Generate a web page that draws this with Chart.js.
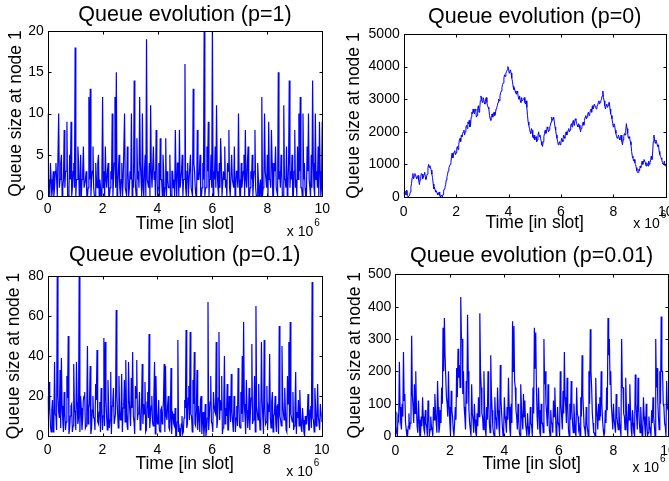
<!DOCTYPE html>
<html>
<head>
<meta charset="utf-8">
<script src="https://cdn.jsdelivr.net/npm/chart.js@4.4.1/dist/chart.umd.min.js"></script>
<style>
  html, body { margin: 0; padding: 0; background: #fff; overflow: hidden; width: 669px; height: 481px; }
  .panel { position: absolute; }
</style>
</head>
<body>
<div class="panel" style="left:0;top:0"><canvas id="c1" width="335" height="240"></canvas></div>
<div class="panel" style="left:335px;top:0"><canvas id="c2" width="350" height="240"></canvas></div>
<div class="panel" style="left:0;top:240px"><canvas id="c3" width="335" height="241"></canvas></div>
<div class="panel" style="left:335px;top:240px"><canvas id="c4" width="350" height="241"></canvas></div>
<script>
// queue size samples, one every 0.025 x 10^6 slots (0 .. 10)
const queueP1 = [10,1,2,0,4,2,0,1,3,0,1,3,4,2,0,0,10,1,2,4,5,0,1,2,8,1,3,3,9,0,0,1,5,2,9,0,1,3,4,1,
  18,0,2,2,6,4,0,1,5,0,2,3,6,1,1,2,3,0,0,1,12,2,13,0,2,3,6,1,0,0,4,2,1,4,5,0,2,1,0,3,
  12,1,3,0,6,2,1,3,4,0,0,1,3,2,10,0,2,4,12,1,15,0,1,3,5,1,0,2,4,0,2,2,10,1,1,0,6,3,0,1,
  3,2,10,0,2,1,14,3,1,0,7,2,3,1,12,4,2,0,10,1,0,3,5,0,19,2,2,1,4,0,11,3,1,1,6,2,3,0,8,4,
  0,1,4,0,7,2,2,0,5,3,0,1,7,0,3,2,1,1,5,0,0,3,3,1,2,0,8,2,0,4,4,0,8,1,1,3,5,0,2,2,
  16,1,0,3,4,0,2,2,5,1,1,0,13,4,3,1,0,0,8,2,2,3,5,0,0,1,4,2,21,0,1,1,6,3,9,0,2,2,5,1,
  21,0,3,2,6,1,11,3,1,0,4,1,7,4,0,0,3,2,6,1,2,0,4,3,8,1,0,0,5,2,2,1,6,0,1,3,3,1,10,2,
  0,0,4,1,2,3,5,0,8,2,1,4,6,0,0,1,3,2,5,0,2,3,8,1,0,0,4,2,0,1,2,0,12,0,1,2,10,3,3,1,
  5,0,9,2,2,1,8,4,0,0,4,3,6,1,1,0,15,2,3,1,5,3,0,0,11,2,2,1,6,0,1,4,14,1,3,2,5,0,0,3,
  8,1,2,0,6,2,10,3,12,1,1,0,10,2,4,1,0,0,6,3,10,2,2,0,5,1,14,4,1,0,10,2,3,1,6,0,9,3,0,1,
  9];

const queueP0 = [150,40,80,180,200,60,20,0,0,60,150,300,420,600,720,560,640,720,700,600,
  560,640,660,500,380,520,620,720,700,560,600,700,760,620,540,640,700,880,1000,900,
  960,900,820,700,600,400,250,300,210,150,180,120,60,100,150,50,0,60,40,0,
  80,180,250,300,380,520,620,700,800,900,950,1000,1050,1250,1350,1200,1300,1380,1420,1300,
  1350,1500,1550,1450,1600,1750,1800,1700,1900,1850,1950,2000,2050,1900,2000,2150,2200,2100,2300,2250,
  2350,2150,2200,2450,2600,2550,2700,2600,2550,2700,2650,2450,2500,2700,2800,2600,2700,2950,3100,3000,
  2900,3050,3000,2900,2850,3000,3050,2900,2800,2750,2700,2500,2400,2350,2500,2550,2450,2550,2600,2500,
  2550,2700,2750,2800,2900,3000,2950,3100,3200,3250,3350,3450,3500,3650,3750,3700,3800,3850,3900,4000,
  3950,3800,3850,3900,3800,3650,3550,3400,3300,3350,3250,3200,3150,3250,3200,3050,3000,3100,2950,2900,
  3050,2950,2950,3000,3050,2900,2850,2950,2750,2500,2300,2200,2100,2000,1950,2100,2050,1850,1800,1900,
  1750,1800,1850,1700,1750,1900,2000,1850,1900,1800,1700,1600,1550,1700,1850,1950,2050,1950,2000,2150,
  2100,2000,2050,2150,2200,2300,2450,2350,2400,2450,2300,2150,2050,1900,1800,1700,1600,1650,1700,1600,
  1650,1800,1750,1700,1900,1850,1800,1950,2000,1900,1950,2050,2100,2000,2050,2200,2250,2150,2300,2350,
  2200,2300,2400,2350,2250,2200,2150,2250,2200,2100,2000,2100,2150,2250,2300,2200,2350,2450,2500,2400,
  2450,2550,2600,2500,2550,2650,2700,2600,2800,2700,2750,2850,2850,2750,2700,2800,2800,2900,2950,2850,
  2900,2950,3000,3100,3250,3050,2950,2800,2700,2800,2850,2750,2800,2900,2900,2700,2550,2500,2400,2250,
  2150,2250,2200,2050,1950,1850,1800,1850,1900,1800,1750,1850,1900,1700,1600,1750,1850,1950,1900,2050,
  2250,2100,1950,1800,1850,1800,1700,1600,1400,1250,1200,1100,1150,1050,1000,900,800,750,750,850,
  800,950,900,1000,1100,1000,1050,1150,1150,1050,950,1050,1000,950,1100,1000,1050,1150,1250,1150,
  1350,1700,1900,1750,1650,1750,1700,1600,1550,1600,1400,1300,1250,1200,1150,1050,1000,1050,1100,950,
  1000];

const queueP01 = [20,8,27,14,5,2,13,18,2,6,37,11,10,3,85,20,12,9,33,4,39,15,8,2,22,12,3,7,30,19,50,1,4,10,15,16,2,5,36,13,
  12,3,37,17,6,9,85,2,20,14,3,8,18,20,22,4,5,11,45,6,14,16,35,1,4,13,20,9,9,3,26,18,43,7,6,12,17,2,24,15,
  3,10,49,5,47,19,10,3,28,14,4,8,32,1,15,17,24,6,6,11,63,20,12,4,30,13,8,9,31,2,14,16,28,7,38,12,5,3,37,18,
  18,5,29,14,42,10,7,1,25,19,38,8,11,13,22,3,4,16,36,6,16,11,27,2,3,17,22,9,51,4,9,15,20,7,5,20,37,1,30,12,
  6,8,18,3,2,13,14,6,11,18,36,2,35,10,8,15,20,4,3,9,34,1,12,11,6,5,14,0,0,7,48,2,4,0,0,6,10,1,2,9,
  18,14,53,4,6,19,25,8,52,11,10,2,28,16,42,6,5,13,33,3,15,10,2,18,20,1,8,12,0,5,16,0,3,9,67,3,10,17,30,7,
  6,2,22,15,12,11,47,4,8,19,52,8,18,13,30,1,4,16,40,6,14,10,26,3,3,20,18,7,31,12,7,2,20,14,2,9,15,5,34,18,
  5,4,22,11,40,7,57,16,10,1,28,13,4,9,24,3,13,19,46,6,8,12,30,2,65,15,12,8,26,10,3,4,47,18,18,1,48,14,6,7,
  25,3,14,12,41,9,4,17,22,2,10,11,20,6,2,15,16,1,55,10,8,5,45,19,12,8,24,13,3,2,30,16,47,4,57,11,9,7,22,3,
  5,14,32,1,12,9,18,5,23,12,4,2,14,8,2,0,10,6,6,11,21,3,3,13,15,4,77,9,8,2,24,15,5,6,26,10,10,3,16,12,
  7];

const queueP001 = [75,30,10,0,60,50,230,90,40,20,100,60,260,110,130,40,20,0,0,30,70,20,40,60,310,130,90,40,160,70,200,90,30,10,110,50,0,0,60,30,
  120,60,20,10,80,40,30,0,110,70,0,20,60,30,20,0,90,50,130,80,40,10,170,90,10,30,80,40,150,100,335,200,365,250,250,120,100,60,200,90,
  40,0,140,80,60,20,0,40,90,50,210,120,270,180,220,150,430,300,300,130,200,90,60,20,170,100,375,200,80,40,20,0,160,70,50,10,100,50,10,0,
  70,30,120,60,380,200,150,70,60,20,200,90,20,0,90,50,200,100,40,10,250,130,80,30,10,0,120,60,50,20,150,80,30,0,220,110,70,30,0,20,
  120,60,40,10,90,50,180,90,20,0,100,40,355,200,340,170,150,80,60,20,100,50,10,0,160,90,50,20,130,60,110,40,20,0,70,30,0,10,90,40,
  30,0,150,70,335,210,320,150,60,20,150,80,10,0,100,40,40,10,300,160,200,100,70,30,160,80,20,0,80,40,40,10,110,60,150,70,0,20,90,40,
  30,0,200,100,60,20,140,70,260,120,90,40,180,90,20,0,100,50,170,80,40,10,100,50,10,0,150,70,60,20,30,0,120,60,250,130,80,30,20,0,
  90,40,20,0,200,100,330,200,150,70,40,10,10,0,180,90,60,20,100,50,120,60,200,100,50,20,0,10,80,40,150,80,365,250,300,160,200,90,60,20,
  100,50,50,10,130,60,40,20,90,40,20,0,300,150,150,70,60,20,180,90,30,0,100,50,160,80,20,0,80,40,10,0,190,100,60,20,180,90,40,10,
  90,40,0,10,120,60,30,0,100,40,0,10,60,30,20,0,80,40,120,60,30,0,300,150,210,110,60,20,200,100,370,200,200,100,90,40,30,0,170,90,
  80];

const xTicks = [0, 2, 4, 6, 8, 10];
const titles = ['Queue evolution (p=1)', 'Queue evolution (p=0)', 'Queue evolution (p=0.1)', 'Queue evolution (p=0.01)'];
const yLabel = 'Queue size at node 1';
const xLabel = 'Time [in slot]';

const FONT = '"Liberation Sans", Arial, Helvetica, sans-serif';

// boite MATLAB : cadre + petites graduations vers l'interieur + "x 10^6"
const matlabBox = {
  id: 'matlabBox',
  afterDraw(chart, args, opts) {
    const ctx = chart.ctx;
    const a = chart.chartArea;
    const L = Math.round(a.left) + 0.5, R = Math.round(a.right) + 0.5;
    const T = Math.round(a.top) + 0.5, B = Math.round(a.bottom) + 0.5;
    ctx.save();
    ctx.strokeStyle = '#000';
    ctx.lineWidth = 1;
    ctx.strokeRect(L, T, R - L, B - T);
    ctx.beginPath();
    const xs = chart.scales.x, ys = chart.scales.y;
    xs.ticks.forEach(t => {
      const px = Math.round(xs.getPixelForValue(t.value)) + 0.5;
      ctx.moveTo(px, B); ctx.lineTo(px, B - 3);
      ctx.moveTo(px, T); ctx.lineTo(px, T + 3);
    });
    ys.ticks.forEach(t => {
      const py = Math.round(ys.getPixelForValue(t.value)) + 0.5;
      ctx.moveTo(L, py); ctx.lineTo(L + 3, py);
      ctx.moveTo(R, py); ctx.lineTo(R - 3, py);
    });
    ctx.stroke();
    // exposant de l'axe x
    ctx.fillStyle = '#000';
    ctx.textBaseline = 'middle';
    ctx.textAlign = 'right';
    ctx.font = '14px ' + FONT;
    const ex = a.right + opts.dx, ey = a.bottom + opts.dy;
    ctx.fillText('x 10', ex, ey);
    ctx.textAlign = 'left';
    ctx.font = '10px ' + FONT;
    ctx.fillText('6', ex + 1, ey - 9);
    ctx.restore();
  }
};

function makePanel(id, title, values, yMax, yStep, box) {
  const pts = values.map((v, i) => ({ x: i * 0.025, y: v }));
  return new Chart(document.getElementById(id), {
    type: 'line',
    data: {
      datasets: [{
        data: pts,
        borderColor: '#0000ff',
        borderWidth: box.lineW,
        pointRadius: 0,
        tension: 0,
        clip: 0
      }]
    },
    plugins: [matlabBox],
    options: {
      responsive: false,
      animation: false,
      events: [],
      layout: { padding: { left: 0, top: 0, right: box.padRight, bottom: 0 } },
      plugins: {
        legend: { display: false },
        tooltip: { enabled: false },
        title: {
          display: true,
          text: title,
          fullSize: false,
          color: '#000',
          font: { family: FONT, size: 21.5, weight: 'normal', lineHeight: 1.2 },
          padding: { top: box.titleTop, bottom: box.titleBottom }
        },
        matlabBox: { dx: box.expDx, dy: box.expDy }
      },
      scales: {
        x: {
          type: 'linear',
          min: 0,
          max: 10,
          afterBuildTicks: s => { s.ticks = xTicks.map(v => ({ value: v })); },
          afterFit: s => { s.height = box.xHeight; },
          grid: { display: false, drawTicks: false },
          border: { display: false },
          ticks: { color: '#000', padding: box.xTickPad, font: { family: FONT, size: 14 }, maxRotation: 0, callback: v => String(v) },
          title: {
            display: true,
            text: xLabel,
            color: '#000',
            font: { family: FONT, size: 17.5, lineHeight: 1.2 },
            padding: { top: 0, bottom: box.xTitleBottom }
          }
        },
        y: {
          min: 0,
          max: yMax,
          afterFit: s => { s.width = box.yWidth; },
          grid: { display: false, drawTicks: false },
          border: { display: false },
          ticks: { color: '#000', stepSize: yStep, padding: 4, font: { family: FONT, size: 14 }, callback: v => String(v) },
          title: {
            display: true,
            text: yLabel,
            color: '#000',
            font: { family: FONT, size: 17.5, lineHeight: 1.2 },
            padding: { top: box.yTitleTop, bottom: 0 }
          }
        }
      }
    }
  });
}

makePanel('c1', titles[0], queueP1, 20, 5, {
  lineW: 1.2, padRight: 11, yWidth: 47.7, xHeight: 44, titleTop: 2.6, titleBottom: 2.6,
  xTickPad: 5, xTitleBottom: 5.5, yTitleTop: 5.3, expDx: -9, expDy: 36
});
makePanel('c2', titles[1], queueP0, 5000, 1000, {
  lineW: 1, padRight: 19.3, yWidth: 68.7, xHeight: 43, titleTop: 4.1, titleBottom: 4.1,
  xTickPad: 6.5, xTitleBottom: 6, yTitleTop: 8.5, expDx: -6, expDy: 27
});
makePanel('c3', titles[2], queueP01, 80, 20, {
  lineW: 1.2, padRight: 11, yWidth: 47.7, xHeight: 45, titleTop: 2.6, titleBottom: 7.6,
  xTickPad: 5.5, xTitleBottom: 6.5, yTitleTop: 4, expDx: -9, expDy: 36
});
makePanel('c4', titles[3], queueP001, 500, 100, {
  lineW: 1.2, padRight: 17, yWidth: 60.3, xHeight: 45, titleTop: 3.0, titleBottom: 5.6,
  xTickPad: 6.5, xTitleBottom: 6, yTitleTop: 10, expDx: -9, expDy: 32
});
</script>
</body>
</html>
